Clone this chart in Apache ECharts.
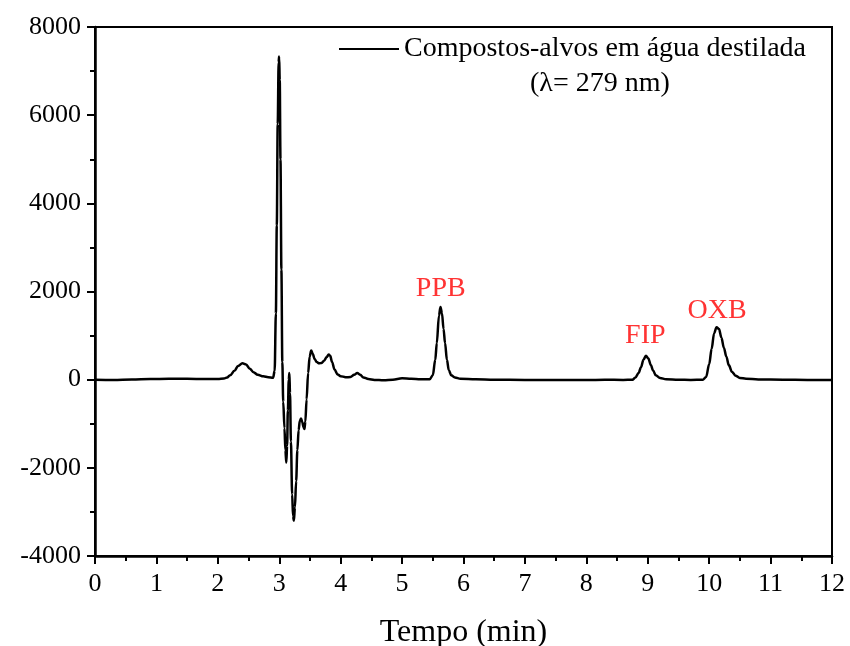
<!DOCTYPE html>
<html>
<head>
<meta charset="utf-8">
<script src="https://cdn.jsdelivr.net/npm/echarts@6/dist/echarts.min.js"></script>
<style>html,body{margin:0;padding:0;background:#fff}#c{width:850px;height:646px}</style>
</head>
<body>
<div id="c"></div>
<script>
var seriesName = 'Compostos-alvos em água destilada';
var subtitle = '(λ= 279 nm)';
var xTitle = 'Tempo (min)';
var time = [0,0.3,0.6,0.9,1.2,1.5,1.8,2.0,2.1,2.15,2.2,2.27,2.33,2.4,2.46,2.52,2.58,2.65,2.74,2.82,2.9,
2.925,2.945,2.96,2.975,2.99,2.998,3.008,3.02,3.035,3.05,3.065,3.085,3.1,3.115,3.128,3.14,3.155,3.165,3.175,3.19,3.21,3.225,3.238,3.255,3.275,3.295,3.315,3.335,3.355,3.375,3.395,3.41,3.425,3.445,3.47,3.495,3.52,3.545,3.575,3.61,3.65,3.69,3.73,3.77,3.805,3.83,3.86,3.9,3.95,4.0,4.08,4.16,4.22,4.27,4.32,4.37,4.45,4.55,4.7,4.85,5.0,5.15,5.3,5.45,
5.5,5.54,5.565,5.6,5.625,5.65,5.675,5.7,5.73,5.76,5.8,5.86,5.95,6.2,6.5,7.0,7.5,8.0,8.3,8.6,
8.75,8.8,8.85,8.89,8.93,8.97,9.01,9.05,9.09,9.13,9.2,9.3,9.5,9.7,9.9,
9.95,10.0,10.04,10.08,10.12,10.16,10.2,10.24,10.28,10.32,10.37,10.43,10.5,10.6,10.8,11.2,11.6,12.0];
var signal = [0,-5,5,15,20,20,15,15,25,50,100,200,310,370,345,250,170,110,75,55,45,
200,1500,3500,5800,7200,7330,6800,5000,2500,400,-500,-1100,-1600,-1880,-1500,-700,0,150,-300,-1400,-2600,-3100,-3200,-2900,-2300,-1600,-1150,-930,-880,-960,-1080,-1120,-950,-450,150,520,660,590,470,400,370,380,430,510,570,540,400,230,120,80,55,60,110,150,110,50,15,-5,-15,0,30,20,10,10,
100,450,825,1450,1650,1500,1150,825,450,220,100,50,20,10,0,-5,-10,-10,0,-5,
0,50,150,280,450,545,480,330,200,100,40,10,0,-5,0,
60,350,700,1050,1190,1150,950,720,520,330,180,90,40,20,5,0,-5,-5];
var peakNames = ['PPB','FIP','OXB'];
var peakLabelX = [5.63,8.96,10.13];
var peakLabelY = [2070,1000,1565];
var xTicks = {min:0,max:12,interval:1};
var yTicks = {min:-4000,max:8000,interval:2000};

var font = '"Liberation Serif","Times New Roman",serif';
var line = time.map(function(t,i){return [t,signal[i]];});
var labels = peakNames.map(function(n,i){return {value:[peakLabelX[i],peakLabelY[i]],name:n};});

var chart = echarts.init(document.getElementById('c'));
chart.setOption({
  animation:false,
  backgroundColor:'#fff',
  grid:{left:95,right:18,top:27,bottom:90,outerBoundsMode:'none',containLabel:false,show:true,borderColor:'#000',borderWidth:2,backgroundColor:'transparent'},
  legend:{
    data:[seriesName],left:334,top:30,itemWidth:60,itemHeight:14,itemGap:10,
    icon:'path://M0,6L60,6L60,8L0,8Z',
    textStyle:{fontFamily:font,fontSize:28,color:'#000',padding:[0,0,0,0]}
  },
  graphic:[{type:'text',left:530,top:70,style:{text:subtitle,font:'28px '+font,fill:'#000'}}],
  xAxis:{type:'value',min:xTicks.min,max:xTicks.max,interval:xTicks.interval,
    name:xTitle,nameLocation:'middle',nameGap:61,nameTextStyle:{fontFamily:font,fontSize:32,color:'#000'},
    axisLine:{onZero:false,lineStyle:{color:'#000',width:2.5}},
    axisTick:{length:8,lineStyle:{color:'#000',width:2}},
    minorTick:{show:true,splitNumber:2,length:5,lineStyle:{color:'#000',width:2}},
    axisLabel:{fontFamily:font,fontSize:26,color:'#000',margin:15},
    splitLine:{show:false}},
  yAxis:{type:'value',min:yTicks.min,max:yTicks.max,interval:yTicks.interval,
    axisLine:{show:true,onZero:false,lineStyle:{color:'#000',width:2.5}},
    axisTick:{show:true,length:8,lineStyle:{color:'#000',width:2}},
    minorTick:{show:true,splitNumber:2,length:5,lineStyle:{color:'#000',width:2}},
    axisLabel:{fontFamily:font,fontSize:26,color:'#000',margin:14,formatter:function(v){return String(v);}},
    splitLine:{show:false}},
  series:[
    {name:seriesName,type:'line',data:line,showSymbol:false,smooth:0.35,smoothMonotone:'x',
     lineStyle:{color:'#000',width:2.5},itemStyle:{color:'#000'},z:3},
    {name:'labels',type:'scatter',data:labels,symbolSize:0,silent:true,
     label:{show:true,position:'inside',formatter:'{b}',fontFamily:font,fontSize:28,color:'#ff0000'}}
  ]
});
</script>
</body>
</html>
